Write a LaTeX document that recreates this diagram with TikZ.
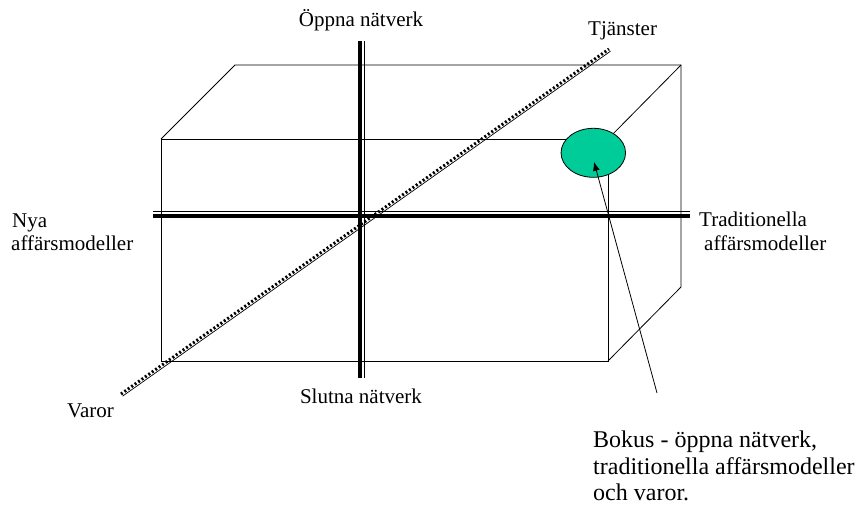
\documentclass[tikz,border=0pt]{standalone}
\usepackage{fontspec}
\setmainfont{Liberation Serif}
\usetikzlibrary{arrows.meta,shapes.geometric}
\definecolor{bokusgreen}{RGB}{0,204,153}
\tikzset{
  boxline/.style={line width=0.8pt,black},
  axisthick/.style={line width=4pt,black},
  axisthin/.style={line width=0.8pt,black},
  dotline/.style={line width=3pt,black,dash pattern=on 2pt off 2.2pt},
  lbl/.style={inner sep=0pt,font=\fontsize{21}{25}\selectfont},
  biglbl/.style={inner sep=0pt,font=\fontsize{24}{27}\selectfont},
  pointer/.style={line width=0.8pt,-{Latex[length=9pt,width=7pt]}}
}
\begin{document}
\begin{tikzpicture}[x=1pt,y=-1pt]
\useasboundingbox (0,0) rectangle (861,506);
% box
\draw[boxline] (161,139) rectangle (608,361);
\draw[boxline] (161,139) -- (235,65) -- (681,65) -- (681,287) -- (608,361);
\draw[boxline] (608,139) -- (681,65);
% dotted diagonal
\coordinate (v1) at (121,394);
\coordinate (v2) at (609,49);
\draw[dotline] (v1) -- (v2);
\draw[line width=0.7pt] ([shift={(1.5,2.2)}]v1) -- ([shift={(1.5,2.2)}]v2);
% axes
\coordinate (vt) at (360,41);
\coordinate (vb) at (360,378);
\draw[axisthick] (vt) -- (vb);
\draw[axisthin] ([xshift=4]vt) -- ([xshift=4]vb);
\coordinate (hl) at (153,215.5);
\coordinate (hr) at (690,215.5);
\draw[axisthick] (hl) -- (hr);
\draw[axisthin] ([yshift=4]hl) -- ([yshift=4]hr);
% ellipse
\node[ellipse,draw,line width=0.8pt,fill=bokusgreen,minimum width=64.5pt,minimum height=49pt,inner sep=0pt] (bokus) at (593.3,152.8) {};
% labels
\node[lbl,anchor=base] (open) at (361,27) {Öppna nätverk};
\node[lbl,anchor=base] (closed) at (361,403) {Slutna nätverk};
\node[lbl,anchor=base west] (tj) at (588,35) {Tjänster};
\node[lbl,anchor=base west] (varor) at (67,417) {Varor};
\node[lbl,anchor=base west] (nya1) at (12,227) {Nya};
\node[lbl,anchor=base west] (nya2) at (11,250) {affärsmodeller};
\node[lbl,anchor=base west] (trad1) at (699,226) {Traditionella};
\node[lbl,anchor=base west] (trad2) at (704,250) {affärsmodeller};
\node[biglbl,anchor=base west] (b1) at (593,447) {Bokus - öppna nätverk,};
\node[biglbl,anchor=base west] (b2) at (593,474) {traditionella affärsmodeller};
\node[biglbl,anchor=base west] (b3) at (593,500) {och varor.};
% arrow
\coordinate (astart) at (657,393);
\draw[pointer] (astart) -- ([shift={(0.7,9)}]bokus.center);
\end{tikzpicture}
\end{document}
